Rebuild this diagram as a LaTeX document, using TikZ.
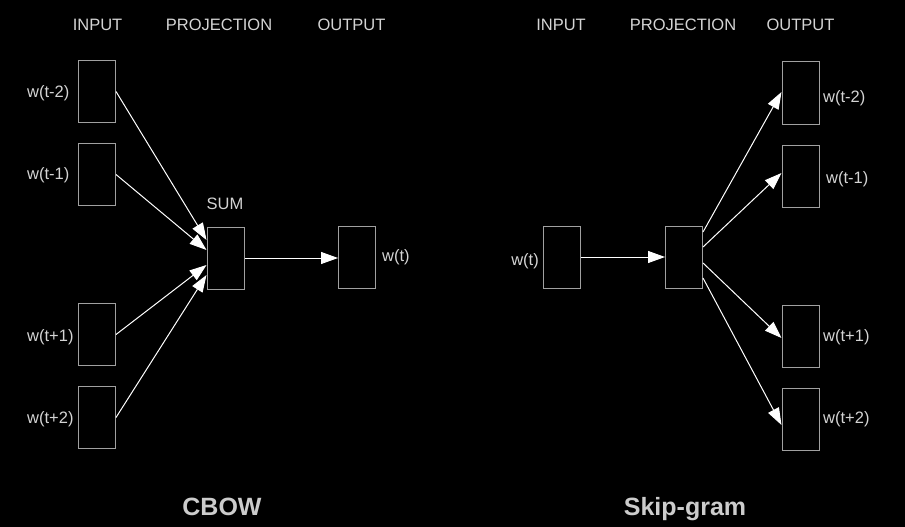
\documentclass[tikz,border=0pt]{standalone}
\usepackage{fontspec}
\setmainfont{Liberation Sans}
\usetikzlibrary{arrows.meta}
\definecolor{boxgray}{RGB}{160,160,160}
\definecolor{txtgray}{RGB}{212,212,212}
\definecolor{titlegray}{RGB}{204,204,204}
\tikzset{
  wbox/.style={draw=boxgray, line width=1pt, inner sep=0pt, minimum width=37pt, minimum height=62pt},
  lbl/.style={text=txtgray, inner sep=0pt, font=\fontsize{16.5}{19}\selectfont},
  hdr/.style={lbl, anchor=base},
  ttl/.style={text=titlegray, inner sep=0pt, anchor=base, font=\fontsize{25}{30}\selectfont\bfseries},
  conn/.style={draw=white, line width=1pt, -{Triangle[length=17pt,width=12pt]}}
}
\begin{document}
\begin{tikzpicture}[x=1pt,y=-1pt]
\fill[black] (0,0) rectangle (905,527);
\useasboundingbox (0,0) rectangle (905,527);
% ---------- CBOW ----------
\node[hdr] (h1) at (97.5,31) {INPUT};
\node[hdr] (h2) at (219,31) {PROJECTION};
\node[hdr] (h3) at (351.5,31) {OUTPUT};
\node[wbox] (i1) at (97,91.5) {};
\node[wbox] (i2) at (97,174.5) {};
\node[wbox] (i3) at (97,334.5) {};
\node[wbox] (i4) at (97,417.5) {};
\node[lbl,anchor=west] (li1) at (27,93) {w(t-2)};
\node[lbl,anchor=west] (li2) at (27,175) {w(t-1)};
\node[lbl,anchor=west] (li3) at (27,337) {w(t+1)};
\node[lbl,anchor=west] (li4) at (27,419) {w(t+2)};
\node[wbox] (sum) at (225.5,258) {};
\node[lbl] (lsum) at (225,203.5) {SUM};
\node[wbox] (out) at (357,257.5) {};
\node[lbl,anchor=west] (lout) at (382,257) {w(t)};
\draw[conn] (i1.east) -- ([yshift=18pt]sum.west);
\draw[conn] (i2.east) -- ([yshift=8pt]sum.west);
\draw[conn] (i3.east) -- ([yshift=-7pt]sum.west);
\draw[conn] (i4.east) -- ([yshift=-17pt]sum.west);
\draw[conn] (sum.east) -- (sum.east -| out.west);
\node[ttl] (t1) at (222,515) {CBOW};
% ---------- Skip-gram ----------
\node[hdr] (k1) at (561,31) {INPUT};
\node[hdr] (k2) at (683,31) {PROJECTION};
\node[hdr] (k3) at (800.5,31) {OUTPUT};
\node[wbox] (sin) at (562,257) {};
\node[lbl,anchor=east] (lsin) at (539,261) {w(t)};
\node[wbox] (proj) at (684,257) {};
\node[wbox] (o1) at (800.5,93) {};
\node[wbox] (o2) at (800.5,176.5) {};
\node[wbox] (o3) at (800.5,336) {};
\node[wbox] (o4) at (800.5,419.5) {};
\node[lbl,anchor=west] (lo1) at (823,98) {w(t-2)};
\node[lbl,anchor=west] (lo2) at (826,179) {w(t-1)};
\node[lbl,anchor=west] (lo3) at (823,337) {w(t+1)};
\node[lbl,anchor=west] (lo4) at (823,419) {w(t+2)};
\draw[conn] (sin.east) -- (proj.west);
\draw[conn] ([yshift=25pt]proj.east) -- ([yshift=1pt]o1.west);
\draw[conn] ([yshift=10pt]proj.east) -- ([yshift=3.5pt]o2.west);
\draw[conn] ([yshift=-6pt]proj.east) -- ([yshift=-2pt]o3.west);
\draw[conn] ([yshift=-21pt]proj.east) -- ([yshift=-5.5pt]o4.west);
\node[ttl] (t2) at (685,515) {Skip-gram};
\end{tikzpicture}
\end{document}
